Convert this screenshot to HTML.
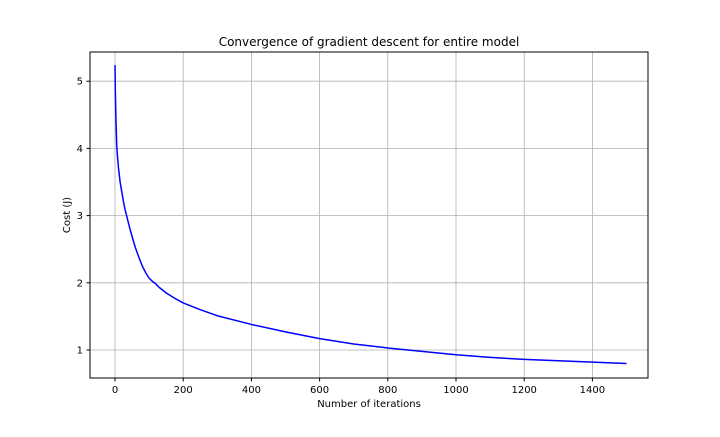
<!DOCTYPE html>
<html><head><meta charset="utf-8"><style>
body{margin:0;background:#fff;}
svg text{font-family:"DejaVu Sans","Liberation Sans",sans-serif;fill:#000;}
</style></head><body>
<svg width="720" height="432" id="c">
<rect x="0" y="0" width="720" height="432" fill="#fff"/>
<g id="grid"></g><g id="ticks"></g>
<path id="line" fill="none" stroke="#0000ff" stroke-width="1.5" stroke-linejoin="round"/>
<rect x="90" y="52" width="558" height="326" fill="none" stroke="#000" stroke-width="1"/>
<text x="369" y="46" font-size="12" text-anchor="middle">Convergence of gradient descent for entire model</text>
<text x="369" y="407" font-size="10" text-anchor="middle">Number of iterations</text>
<text transform="translate(70,215) rotate(-90)" font-size="10" text-anchor="middle">Cost (J)</text>
</svg>
<script>
const iters=[0,1,2,3,5,7,10,15,20,25,30,34,40,45,50,60,70,80,90,100,110,118,130,150,175,200,250,300,400,500,600,700,800,900,1000,1100,1200,1300,1400,1500];
const costs=[5.24,4.85,4.6,4.4,4.05,3.9,3.72,3.5,3.35,3.2,3.08,3.0,2.88,2.78,2.69,2.52,2.38,2.25,2.15,2.07,2.02,1.99,1.93,1.85,1.77,1.70,1.60,1.51,1.38,1.27,1.17,1.09,1.03,0.98,0.93,0.89,0.86,0.84,0.82,0.80];
const xTicks=[0,200,400,600,800,1000,1200,1400];
const yTicks=[1,2,3,4,5];
const sx=v=>115+v*(68.2/200);
const sy=v=>350-(v-1)*67.2;
const ns='http://www.w3.org/2000/svg';
const g=document.getElementById('grid'),t=document.getElementById('ticks');
function mk(tag,a,p){const e=document.createElementNS(ns,tag);for(const k in a)e.setAttribute(k,a[k]);p.appendChild(e);return e;}
xTicks.forEach(v=>{const x=sx(v);
const l=mk('line',{x1:x,x2:x,y1:52,y2:378,stroke:'#b0b0b0','stroke-width':0.8},g);


const tk=mk('line',{x1:x,x2:x,y1:378,y2:381.5,stroke:'#000'},t);


const tx=mk('text',{x:x,y:393,'font-size':10,'text-anchor':'middle'},t);tx.textContent=v;

});
yTicks.forEach(v=>{const y=sy(v);
const l=mk('line',{x1:90,x2:648,y1:y,y2:y,stroke:'#b0b0b0','stroke-width':0.8},g);


const tk=mk('line',{x1:86.5,x2:90,y1:y,y2:y,stroke:'#000'},t);


const tx=mk('text',{x:83,y:y+3.5,'font-size':10,'text-anchor':'end'},t);tx.textContent=v;

});
document.getElementById('line').setAttribute('d',iters.map((v,i)=>(i?'L':'M')+sx(v).toFixed(2)+','+sy(costs[i]).toFixed(2)).join(''));
</script>
</body></html>
